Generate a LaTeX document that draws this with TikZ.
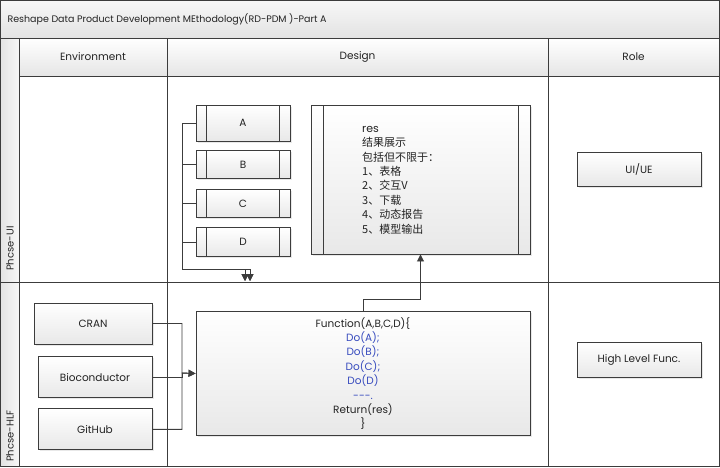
\documentclass[tikz,border=0pt]{standalone}
\usepackage{fontspec}
\setmainfont{Poppins}
\newfontfamily\cjk{Noto Sans CJK SC}
\usepackage{tikz}
\usetikzlibrary{positioning,arrows.meta,shadows}
\definecolor{linegray}{RGB}{60,60,60}
\definecolor{textgray}{RGB}{35,35,35}
\definecolor{doblue}{RGB}{55,75,190}
\tikzset{
	lbl/.style={font=\fontsize{10.5}{12}\selectfont, text=textgray},
	ndbox/.style={lbl, draw=linegray, line width=0.9pt, top color=white, bottom color=black!9, drop shadow={shadow xshift=1.5pt, shadow yshift=-1.5pt, fill=black!18}, inner sep=0pt},
	subproc/.style={ndbox, path picture={\draw[linegray, line width=0.9pt] ([xshift=#1]path picture bounding box.north west) -- ([xshift=#1]path picture bounding box.south west) ([xshift=-#1]path picture bounding box.north east) -- ([xshift=-#1]path picture bounding box.south east);}},
	subproc/.default=10.5pt,
	link/.style={draw=linegray, line width=0.9pt},
	flow/.style={link, -{Triangle[length=7pt,width=7pt]}}
}
\begin{document}
\begin{tikzpicture}[x=1pt, y=-1pt]
	\useasboundingbox (0,0) rectangle (720,467);
	\shade[top color=black!3, bottom color=black!11] (0,0) rectangle (719,38);
	\shade[top color=white, bottom color=black!10] (19,38) rectangle (719,76);
	\shade[left color=black!11, right color=black!3] (0,38) rectangle (19,466);
	\draw[link] (0,0) rectangle (719,466);
	\draw[link] (0,38) -- (719,38) (19,76) -- (719,76) (0,282) -- (719,282)
		(19,38) -- (19,466) (167,38) -- (167,466) (548,38) -- (548,466);
	
	\node[lbl, anchor=west, font=\fontsize{9.5}{12}\selectfont] (title) at (4,19) {Reshape Data Product Development MEthodology(RD-PDM )-Part A};
	\node[lbl] (env) at (93,57) {Environment};
	\node[lbl] (design) at (357.5,57) {Design};
	\node[lbl] (role) at (633.5,57) {Role};
	\node[lbl, rotate=90, anchor=west, inner sep=0pt, font=\fontsize{10}{12}\selectfont] (ui) at (10,271) {Phcse-UI};
	\node[lbl, rotate=90, anchor=west, inner sep=0pt, font=\fontsize{10}{12}\selectfont] (hlf) at (10,462) {Phcse-HLF};
	
	\node[subproc, minimum width=94pt, minimum height=36pt] (a) at (243,123) {A};
	\node[subproc, minimum width=94pt, minimum height=28pt, below=9pt of a] (b) {B};
	\node[subproc, minimum width=94pt, minimum height=28pt, below=10pt of b] (c) {C};
	\node[subproc, minimum width=94pt, minimum height=29pt, below=9pt of c] (d) {D};
	\node[subproc=12pt, minimum width=219pt, minimum height=149pt] (res) at (420.5,179.5) {};
	\node[lbl, align=left, anchor=north west, inner sep=0pt, font={\fontsize{11}{14.4}\cjk}] (restext) at (362,126)
		{{\normalfont res}\\结果展示\\包括但不限于：\\1、表格\\2、交互V\\3、下载\\4、动态报告\\5、模型输出};
	\node[ndbox, align=center, minimum width=334pt, minimum height=124pt, font=\fontsize{10.5}{14.4}\selectfont] (func) at (363,373.5)
		{Function(A,B,C,D)\{\\\textcolor{doblue}{Do(A);}\\\textcolor{doblue}{Do(B);}\\\textcolor{doblue}{Do(C);}\\\textcolor{doblue}{Do(D)}\\\textcolor{doblue}{-{}-{}-.}\\Return(res)\\\}};
	
	\node[ndbox, minimum width=118pt, minimum height=41pt] (cran) at (93,323.5) {CRAN};
	\node[ndbox, minimum width=114pt, minimum height=41pt, below=12pt of cran.south east, anchor=north east] (bio) {Bioconductor};
	\node[ndbox, minimum width=114pt, minimum height=41pt, below=10pt of bio] (github) {GitHub};
	
	\node[ndbox, minimum width=124pt, minimum height=34pt] (uiue) at (639,169) {UI/UE};
	\node[ndbox, minimum width=124pt, minimum height=35pt] (hlfunc) at (639,359.5) {High Level Func.};
	
	\coordinate (bend) at (182,269);
	\coordinate (tipa) at (245,281);
	\coordinate (tipb) at (250,281);
	\coordinate (join) at (182,373);
	
	\draw[flow] (a.west) -| (bend) -| (tipa);
	\draw[flow] (b.west) -| (bend) -| (tipb);
	\draw[flow] (c.west) -| (bend) -| (tipa);
	\draw[flow] (d.west) -| (bend) -| (tipb);
	\draw[flow] (func.north) -- ++(0,-12) -| (res.south);
	\draw[flow] (cran.east) -| (join) -- (func.west);
	\draw[link] (bio.east) -| (join);
	\draw[flow] (github.east) -| (join) -- (func.west);
\end{tikzpicture}
\end{document}
